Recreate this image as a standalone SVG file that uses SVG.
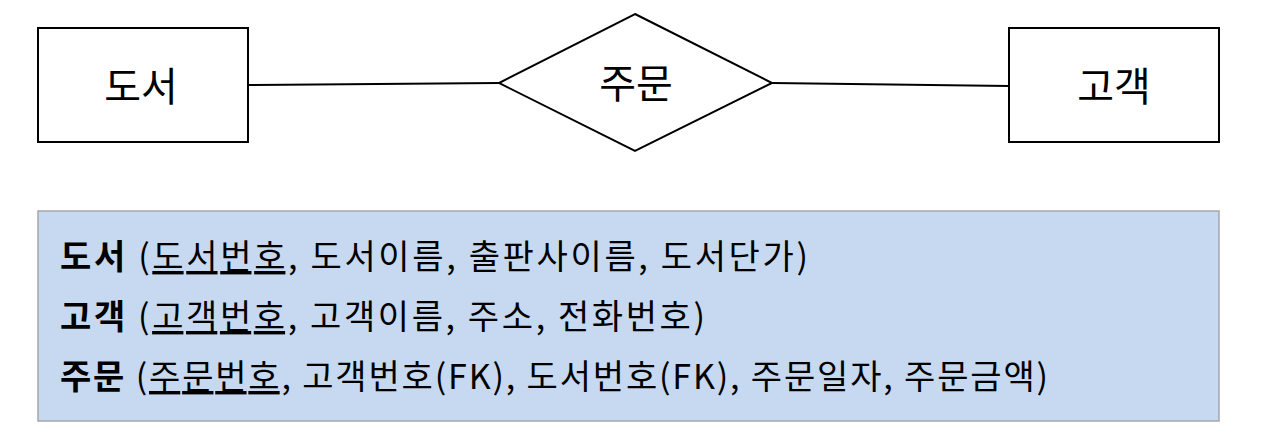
<svg xmlns="http://www.w3.org/2000/svg" width="1280" height="443" viewBox="0 0 1280 443">
<style>
.ent{fill:#fff;stroke:#000;stroke-width:2}
.lbl{font-family:"Noto Sans CJK KR","Noto Sans",sans-serif;font-size:40px;fill:#000;text-anchor:middle}
.conn{stroke:#000;stroke-width:2;fill:none}
.row{font-family:"Noto Sans CJK KR","Noto Sans",sans-serif;font-size:34px;fill:#000}
.b{font-weight:bold}
.u{text-decoration:underline}
</style>
<rect width="1280" height="443" fill="#fff"/>
<g id="connectors">
<path class="conn" d="M248,85 L499,83"/>
<path class="conn" d="M772,83 L1009,86"/>
</g>
<g id="book">
<rect class="ent" x="38" y="28" width="210" height="114"/>
<text class="lbl" x="141" y="101">도서</text>
</g>
<g id="order">
<polygon class="ent" points="635,14 772,83 635,151 499,83"/>
<text class="lbl" x="636" y="98">주문</text>
</g>
<g id="customer">
<rect class="ent" x="1009" y="28" width="210" height="114"/>
<text class="lbl" x="1114" y="101">고객</text>
</g>
<g id="schema">
<rect x="38" y="211" width="1181" height="210" fill="#C6D9F0" stroke="#A6A6A6" stroke-width="1.5"/>
<text class="row" x="60" y="269" textLength="748" lengthAdjust="spacing"><tspan class="b">도서</tspan> (<tspan class="u">도서번호</tspan>, 도서이름, 출판사이름, 도서단가)</text>
<text class="row" x="60" y="329" textLength="645" lengthAdjust="spacing"><tspan class="b">고객</tspan> (<tspan class="u">고객번호</tspan>, 고객이름, 주소, 전화번호)</text>
<text class="row" x="60" y="389" textLength="988" lengthAdjust="spacing"><tspan class="b">주문</tspan> (<tspan class="u">주문번호</tspan>, 고객번호(FK), 도서번호(FK), 주문일자, 주문금액)</text>
</g>
</svg>
